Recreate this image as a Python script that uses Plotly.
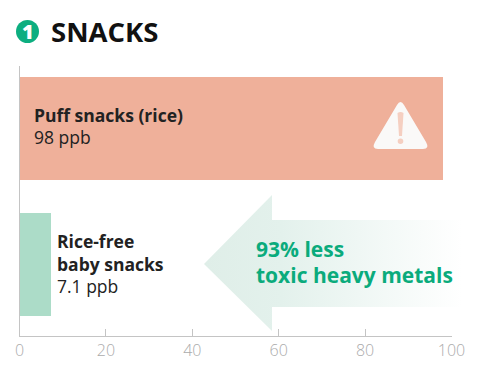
import plotly.graph_objects as go

categories = ["Puff snacks (rice)", "Rice-free<br>baby snacks"]
values = [98, 7.1]
bar_colors = ["#EFB09A", "#ACDCC8"]
tick_values = [0, 20, 40, 60, 80, 100]
tick_labels = ["0", "20", "40", "60", "80", "100"]

W, H = 480, 377
FONT = "Open Sans"
DARK = "#222222"
GREEN = "#0AAB7C"

fig = go.Figure()
fig.add_trace(go.Bar(
    y=[0, 1], x=values, orientation="h", width=0.757,
    marker=dict(color=bar_colors, line_width=0),
    hoverinfo="skip", showlegend=False, text=categories, textposition="none",
))

# Decorative arrow with horizontal fade, on a pixel overlay axis
fig.add_trace(go.Scatter(
    x=[204, 272, 272, 462, 462, 272, 272, 204],
    y=[264, 195, 220, 220, 307, 307, 331, 264],
    xaxis="x2", yaxis="y2", mode="lines", line=dict(width=0),
    fill="toself",
    fillgradient=dict(type="horizontal",
                      colorscale=[[0, "#DFEEE8"], [0.3, "#E3F1EC"], [1, "#FFFFFF"]]),
    hoverinfo="skip", showlegend=False,
))

px = dict(xref="x2", yref="y2")
fig.add_shape(type="circle", x0=16, x1=39, y0=20, y1=43, fillcolor="#0DAE80", line_width=0, **px)
fig.add_shape(type="path", layer="above", line_width=0, fillcolor="#FAF9F8", **px,
              path="M397 105 Q400.5 99 404 105 L426 142 Q430 149 423 149 L378 149 Q371 149 375 142 Z")
fig.add_shape(type="path", layer="above", line_width=0, fillcolor="#F5CFC1", **px,
              path="M397.5 113 Q400.5 111 403.5 113 L402 136 L399 136 Z")
fig.add_shape(type="circle", layer="above", x0=397.7, x1=403.3, y0=138.5, y1=144,
              fillcolor="#F5CFC1", line_width=0, **px)


def label(x, y, text, size=17.5, color=DARK, weight=400):
    fig.add_annotation(x=x, y=y, text=text, showarrow=False, xanchor="left", yanchor="middle",
                       align="left", font=dict(family=FONT, size=size, color=color, weight=weight),
                       xref="x2", yref="y2", borderpad=0, borderwidth=0)


fig.add_annotation(x=27.5, y=31.5, text="1", showarrow=False, xref="x2", yref="y2",
                   font=dict(family=FONT, size=20, color="white", weight=800))
label(50.5, 31, "SNACKS", size=27.5, color="#111111", weight=700)
label(34, 115, categories[0], weight=700)
label(34, 137, f"{values[0]:g} ppb", weight=400)
label(57, 252, categories[1], weight=700)
label(57, 286, f"{values[1]:g} ppb", weight=400)
label(256, 249, "93% less", size=21, color=GREEN, weight=700)
label(256, 275, "toxic heavy metals", size=21, color=GREEN, weight=700)

fig.update_layout(
    width=W, height=H, margin=dict(l=0, r=0, t=0, b=0, autoexpand=False), autosize=False,
    paper_bgcolor="white", plot_bgcolor="rgba(0,0,0,0)", bargap=0,
    xaxis=dict(domain=[19.5 / W, 451.5 / W], range=[0, 100], tickvals=tick_values, ticktext=tick_labels,
               ticks="inside", ticklen=7, tickcolor="#C4C4C4", tickwidth=1,
               showgrid=False, zeroline=False, showline=True, linecolor="#C4C4C4", linewidth=1,
               tickfont=dict(family=FONT, size=16, color="#ABABAB", weight=300), anchor="y"),
    yaxis=dict(domain=[1 - 336 / H, 1 - 66 / H], range=[1.526, -0.46], showticklabels=False, ticks="",
               showgrid=False, zeroline=False, showline=True, linecolor="#C4C4C4", linewidth=1, anchor="x"),
    xaxis2=dict(domain=[0, 1], range=[0, W], visible=False, fixedrange=True, anchor="y2"),
    yaxis2=dict(domain=[0, 1], range=[H, 0], visible=False, fixedrange=True, anchor="x2"),
)
fig.write_html("out.html", config=dict(displayModeBar=False),
               post_script="document.body.style.margin='0';document.body.style.overflow='hidden';")
